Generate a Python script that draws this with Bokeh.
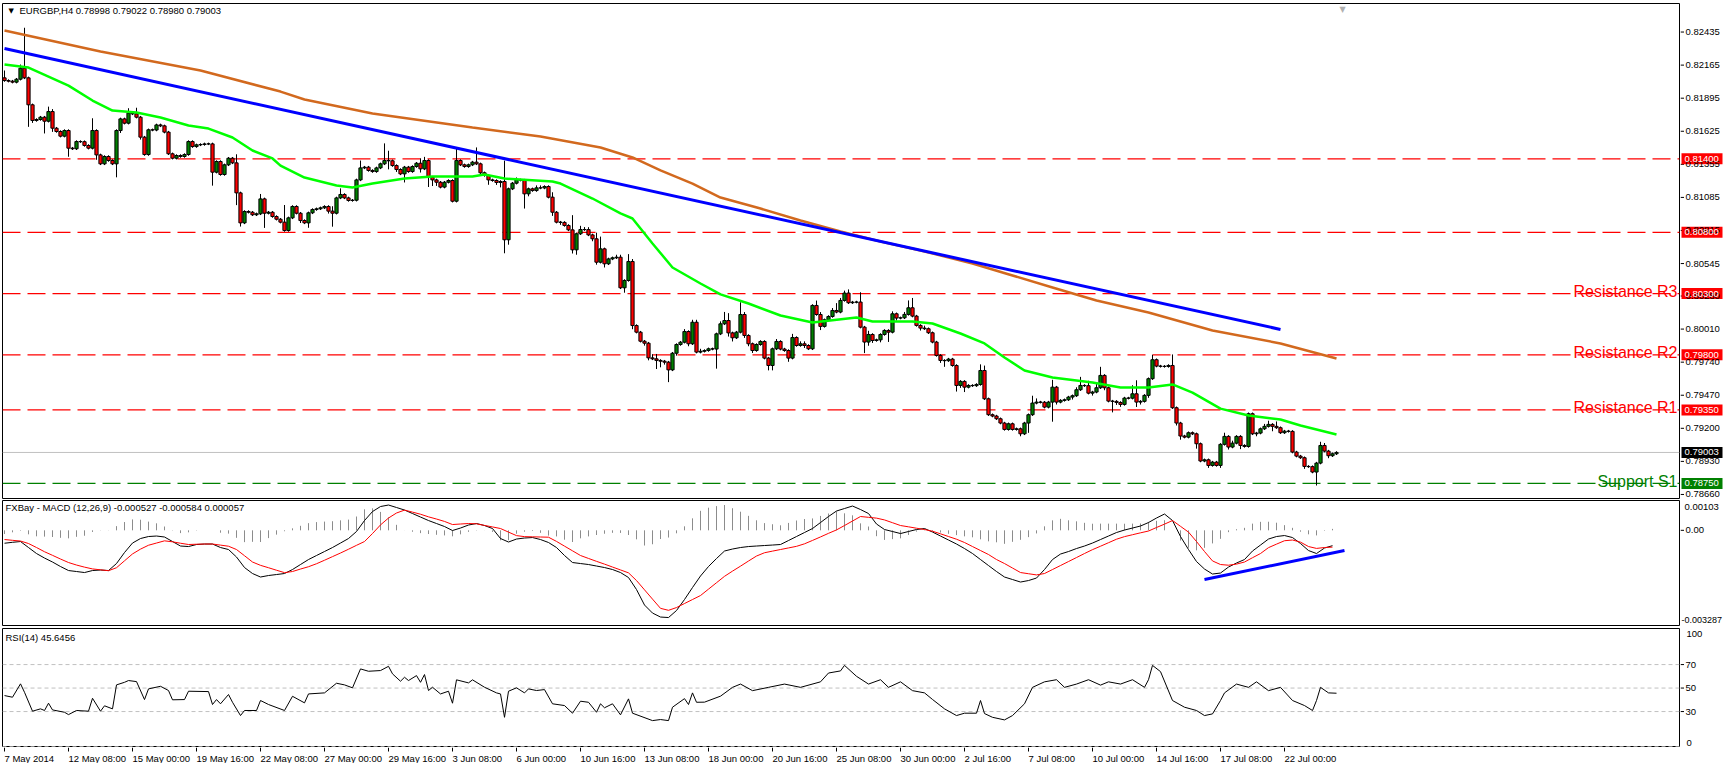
import numpy as np
from bokeh.plotting import figure
from bokeh.models import Range1d, Span, Label, Div, Grid
from bokeh.layouts import column, row
from bokeh.embed import file_html
from bokeh.resources import INLINE

# ---------------- data ----------------
symbol_header = "EURGBP,H4  0.78998 0.79022 0.78980 0.79003"
macd_header = "FXBay - MACD (12,26,9) -0.000527 -0.000584 0.000057"
rsi_header = "RSI(14) 45.6456"

first_open = 0.82061
close = [
 0.82039, 0.82034, 0.82026, 0.82050, 0.82140, 0.82061, 0.81841, 0.81713, 0.81721, 0.81740,
 0.81707, 0.81786, 0.81650, 0.81623, 0.81585, 0.81631, 0.81487, 0.81482, 0.81541, 0.81540,
 0.81509, 0.81487, 0.81631, 0.81432, 0.81359, 0.81419, 0.81386, 0.81359, 0.81631, 0.81726,
 0.81691, 0.81773, 0.81767, 0.81740, 0.81577, 0.81435, 0.81637, 0.81635, 0.81677, 0.81669,
 0.81618, 0.81441, 0.81405, 0.81427, 0.81419, 0.81435, 0.81541, 0.81500, 0.81514, 0.81517,
 0.81522, 0.81522, 0.81291, 0.81378, 0.81272, 0.81351, 0.81405, 0.81367, 0.81122, 0.80877,
 0.80970, 0.80964, 0.80943, 0.80951, 0.81073, 0.80956, 0.80964, 0.80929, 0.80907, 0.80883,
 0.80815, 0.80918, 0.81011, 0.80956, 0.80896, 0.80877, 0.80959, 0.80986, 0.80992, 0.81000,
 0.81011, 0.80973, 0.80956, 0.81081, 0.81109, 0.81081, 0.81060, 0.81062, 0.81228, 0.81326,
 0.81332, 0.81305, 0.81296, 0.81326, 0.81359, 0.81386, 0.81384, 0.81345, 0.81313, 0.81277,
 0.81332, 0.81296, 0.81337, 0.81364, 0.81318, 0.81386, 0.81250, 0.81228, 0.81209, 0.81169,
 0.81209, 0.81223, 0.81054, 0.81386, 0.81351, 0.81337, 0.81351, 0.81373, 0.81359, 0.81286,
 0.81264, 0.81228, 0.81223, 0.81207, 0.81215, 0.80739, 0.81155, 0.81201, 0.81228, 0.81226,
 0.81114, 0.81155, 0.81141, 0.81163, 0.81162, 0.81174, 0.81087, 0.80964, 0.80883, 0.80881,
 0.80856, 0.80820, 0.80657, 0.80788, 0.80823, 0.80822, 0.80779, 0.80747, 0.80556, 0.80665,
 0.80543, 0.80583, 0.80592, 0.80597, 0.80347, 0.80407, 0.80562, 0.80039, 0.79985, 0.79911,
 0.79895, 0.79775, 0.79767, 0.79754, 0.79748, 0.79740, 0.79677, 0.79813, 0.79884, 0.79903,
 0.79990, 0.79890, 0.80066, 0.79822, 0.79829, 0.79835, 0.79849, 0.79847, 0.79971, 0.80053,
 0.80080, 0.79979, 0.79939, 0.79985, 0.80129, 0.79958, 0.79890, 0.79835, 0.79884, 0.79909,
 0.79773, 0.79713, 0.79849, 0.79909, 0.79847, 0.79835, 0.79773, 0.79941, 0.79876, 0.79890,
 0.79876, 0.79849, 0.80203, 0.80129, 0.80032, 0.80086, 0.80113, 0.80162, 0.80149, 0.80244,
 0.80304, 0.80225, 0.80230, 0.80231, 0.80026, 0.79904, 0.79966, 0.79917, 0.79922, 0.79966,
 0.79999, 0.79985, 0.80135, 0.80100, 0.80102, 0.80130, 0.80184, 0.80116, 0.80040, 0.80018,
 0.80013, 0.79980, 0.79904, 0.79795, 0.79754, 0.79752, 0.79765, 0.79713, 0.79550, 0.79583,
 0.79536, 0.79550, 0.79548, 0.79558, 0.79672, 0.79441, 0.79311, 0.79300, 0.79278, 0.79243,
 0.79191, 0.79237, 0.79191, 0.79196, 0.79155, 0.79243, 0.79311, 0.79406, 0.79414, 0.79413,
 0.79373, 0.79414, 0.79536, 0.79414, 0.79428, 0.79433, 0.79455, 0.79466, 0.79515, 0.79550,
 0.79548, 0.79487, 0.79496, 0.79531, 0.79632, 0.79531, 0.79422, 0.79420, 0.79411, 0.79395,
 0.79447, 0.79446, 0.79482, 0.79414, 0.79420, 0.79469, 0.79605, 0.79760, 0.79708, 0.79706,
 0.79705, 0.79713, 0.79368, 0.79243, 0.79137, 0.79128, 0.79164, 0.79155, 0.79074, 0.78933,
 0.78943, 0.78897, 0.78924, 0.78897, 0.79069, 0.79134, 0.79047, 0.79079, 0.79134, 0.79060,
 0.79052, 0.79319, 0.79155, 0.79161, 0.79196, 0.79216, 0.79232, 0.79216, 0.79205, 0.79164,
 0.79177, 0.79175, 0.79006, 0.78973, 0.78960, 0.78889, 0.78887, 0.78843, 0.78916, 0.79060,
 0.79014, 0.78976, 0.78992, 0.79003,
]

# wick lengths beyond the candle body, in pips (0.0001)
wick_up_pips = [
 6,1,1,1,3,33,1,1,1,1,1,4,2,1,1,1,1,1,1,1,
 1,1,10,1,1,1,1,1,1,1,1,4,1,5,1,1,1,1,1,1,
 1,1,1,1,1,1,1,1,1,1,1,1,1,1,1,1,1,1,7,1,
 1,1,1,1,4,1,1,1,1,1,14,1,1,1,1,1,1,1,1,1,
 1,1,4,1,5,1,1,1,1,6,1,1,1,1,1,14,8,1,1,1,
 1,1,1,1,4,3,1,1,1,1,1,1,1,11,1,1,1,1,12,1,
 1,1,1,1,1,17,1,1,2,1,1,1,1,2,2,1,1,4,1,1,
 1,1,12,1,3,2,2,1,5,10,1,1,1,2,2,1,6,2,1,1,
 1,1,3,4,1,1,1,1,1,1,2,1,2,2,2,1,1,1,1,2,
 7,6,1,1,10,2,1,1,1,1,1,1,1,2,1,1,1,3,1,2,
 2,1,1,4,2,1,1,2,6,2,2,3,1,1,8,1,3,1,1,1,
 1,1,2,1,1,2,6,8,1,1,2,1,1,1,1,1,1,1,1,1,
 1,1,1,1,5,4,1,1,1,1,1,1,1,1,1,1,1,6,3,1,
 1,1,6,1,1,1,1,1,2,7,1,4,1,3,7,1,1,1,1,1,
 1,1,7,11,1,1,1,4,1,1,1,1,9,1,1,1,1,1,1,1,
 1,1,1,1,1,3,1,2,1,1,1,1,1,1,1,2,3,1,4,1,
 1,1,1,1,1,1,1,1,1,3,2,1,1,1,
]
wick_dn_pips = [
 1,1,1,1,1,1,18,2,1,1,10,1,3,1,1,1,7,1,1,1,
 1,1,1,4,1,1,1,1,11,2,1,1,1,1,2,1,1,1,1,1,
 1,1,1,1,1,1,1,1,1,1,1,1,11,1,1,1,1,1,10,3,
 1,1,1,1,1,12,1,1,1,1,1,1,1,1,2,1,4,1,1,1,
 1,2,11,1,1,1,1,1,1,1,1,1,1,1,1,1,7,1,2,1,
 7,1,1,1,3,1,8,5,3,1,1,1,1,1,1,1,1,1,1,2,
 1,4,1,2,4,11,4,1,1,1,12,2,1,1,1,1,1,3,1,2,
 1,1,3,4,1,1,1,2,2,1,3,1,1,1,1,4,1,3,1,1,
 2,2,1,7,5,2,10,1,2,1,1,2,1,1,1,1,1,1,16,1,
 1,3,3,1,1,2,2,2,1,1,1,4,4,1,1,1,3,1,1,1,
 2,1,1,1,3,1,1,1,1,1,1,1,1,1,1,9,3,2,1,2,
 1,8,1,2,1,1,1,1,1,2,1,1,1,1,2,5,1,1,5,2,
 4,1,1,1,1,1,1,1,1,1,1,1,1,1,2,1,8,1,1,1,
 1,1,16,2,1,1,1,2,1,1,1,1,2,1,1,2,1,9,2,2,
 1,1,1,4,2,1,2,1,1,1,1,1,1,2,3,1,1,1,4,1,
 1,2,1,1,2,1,2,1,1,3,1,1,1,2,1,1,1,4,1,1,
 1,1,1,1,1,2,1,1,11,1,1,2,1,1,
]

ma_slow_bar = [0, 24, 49, 69, 75, 92, 117, 134, 149, 157, 164, 172, 179, 189, 199, 209,
               219, 229, 242, 252, 262, 273, 286, 302, 319, 333]
ma_slow_val = [0.82447, 0.82276, 0.82121, 0.81949, 0.81884, 0.81770, 0.81656, 0.81582,
               0.81492, 0.81411, 0.81305, 0.81198, 0.81084, 0.80994, 0.80897, 0.80807,
               0.80725, 0.80652, 0.80546, 0.80448, 0.80350, 0.80243, 0.80146, 0.79999,
               0.79893, 0.79770]

ma_fast_bar = [0, 6, 16, 22, 27, 33, 39, 46, 51, 57,
               62, 67, 69, 75, 83, 87, 92, 100, 107, 117,
               120, 125, 137, 139, 147, 154, 157, 162, 167, 174,
               179, 186, 194, 202, 213, 217, 227, 232, 239, 245,
               250, 255, 262, 272, 279, 286, 292, 297, 304, 311,
               319, 324, 333]
ma_fast_val = [0.82170, 0.82145, 0.81998, 0.81876, 0.81794, 0.81778, 0.81737, 0.81672, 0.81647, 0.81574,
               0.81468, 0.81403, 0.81345, 0.81247, 0.81182, 0.81166, 0.81198, 0.81239, 0.81256, 0.81256,
               0.81272, 0.81239, 0.81215, 0.81198, 0.81076, 0.80954, 0.80913, 0.80709, 0.80513, 0.80382,
               0.80293, 0.80219, 0.80121, 0.80064, 0.80105, 0.80072, 0.80072, 0.80056, 0.79974, 0.79893,
               0.79778, 0.79672, 0.79615, 0.79574, 0.79533, 0.79533, 0.79558, 0.79492, 0.79361, 0.79304,
               0.79272, 0.79223, 0.79150]

trend_bar = [0, 319]
trend_val = [0.82300, 0.80007]

level_prices = [0.81400, 0.80800, 0.80300, 0.79800, 0.79350, 0.78750]
level_names = ["", "", "Resistance R3", "Resistance R2", "Resistance R1", "Support S1"]
bid_price = 0.79003

price_ticks = [0.82435, 0.82165, 0.81895, 0.81625, 0.81355, 0.81085, 0.80815, 0.80545,
               0.80280, 0.80010, 0.79740, 0.79470, 0.79200, 0.78930, 0.78660]

# MACD main and signal, sampled every second bar (bars 0, 2, 4, ... 332)
macd_main = [
 -0.000446, -0.000414, -0.000387, -0.000594, -0.000801, -0.000957, -0.001095, -0.001250, -0.001389, -0.001423,
 -0.001458, -0.001389, -0.001371, -0.001389, -0.001147, -0.000767, -0.000439, -0.000283, -0.000214, -0.000197,
 -0.000231, -0.000387, -0.000542, -0.000560, -0.000490, -0.000473, -0.000473, -0.000594, -0.000663, -0.000922,
 -0.001285, -0.001492, -0.001613, -0.001561, -0.001527, -0.001492, -0.001354, -0.001181, -0.001009, -0.000870,
 -0.000732, -0.000594, -0.000439, -0.000283, -0.000041, 0.000338, 0.000649, 0.000822, 0.000874, 0.000788,
 0.000701, 0.000580, 0.000459, 0.000338, 0.000235, 0.000131, -0.000007, 0.000079, 0.000183, 0.000235,
 0.000166, 0.000062, -0.000283, -0.000404, -0.000301, -0.000266, -0.000249, -0.000318, -0.000421, -0.000594,
 -0.000870, -0.001112, -0.001147, -0.001181, -0.001233, -0.001285, -0.001354, -0.001458, -0.001630, -0.002045,
 -0.002580, -0.002857, -0.002995, -0.003012, -0.002770, -0.002390, -0.001976, -0.001578, -0.001250, -0.000974,
 -0.000715, -0.000646, -0.000594, -0.000560, -0.000542, -0.000525, -0.000508, -0.000490, -0.000352, -0.000214,
 -0.000076, 0.000062, 0.000269, 0.000477, 0.000667, 0.000753, 0.000839, 0.000718, 0.000580, 0.000218,
 0.000028, -0.000041, -0.000111, -0.000041, 0.000028, 0.000062, -0.000059, -0.000197, -0.000335, -0.000473,
 -0.000629, -0.000801, -0.001009, -0.001216, -0.001423, -0.001613, -0.001699, -0.001786, -0.001734, -0.001648,
 -0.001354, -0.001009, -0.000819, -0.000732, -0.000629, -0.000542, -0.000439, -0.000318, -0.000197, -0.000076,
 0.000010, 0.000079, 0.000149, 0.000269, 0.000425, 0.000563, 0.000338, -0.000214, -0.000663, -0.001078,
 -0.001337, -0.001509, -0.001475, -0.001268, -0.001129, -0.001009, -0.000715, -0.000508, -0.000301, -0.000214,
 -0.000180, -0.000249, -0.000456, -0.000698, -0.000801, -0.000611, -0.000530,
]
macd_signal = [
 -0.000318, -0.000345, -0.000370, -0.000456, -0.000594, -0.000739, -0.000864, -0.000991, -0.001112, -0.001199,
 -0.001271, -0.001333, -0.001364, -0.001395, -0.001292, -0.001053, -0.000815, -0.000649, -0.000515, -0.000439,
 -0.000363, -0.000397, -0.000446, -0.000490, -0.000480, -0.000473, -0.000473, -0.000511, -0.000549, -0.000663,
 -0.000877, -0.001095, -0.001209, -0.001292, -0.001378, -0.001461, -0.001423, -0.001337, -0.001257, -0.001154,
 -0.001033, -0.000908, -0.000784, -0.000653, -0.000518, -0.000387, -0.000111, 0.000187, 0.000425, 0.000598,
 0.000698, 0.000629, 0.000556, 0.000466, 0.000390, 0.000307, 0.000200, 0.000218, 0.000235, 0.000225,
 0.000169, 0.000117, 0.000062, -0.000062, -0.000183, -0.000218, -0.000225, -0.000231, -0.000238, -0.000383,
 -0.000546, -0.000708, -0.000870, -0.000971, -0.001071, -0.001167, -0.001268, -0.001368, -0.001468, -0.001734,
 -0.002055, -0.002376, -0.002694, -0.002763, -0.002667, -0.002528, -0.002390, -0.002252, -0.002031, -0.001810,
 -0.001589, -0.001409, -0.001237, -0.001060, -0.000888, -0.000774, -0.000718, -0.000663, -0.000608, -0.000553,
 -0.000466, -0.000349, -0.000228, -0.000104, 0.000014, 0.000166, 0.000321, 0.000477, 0.000449, 0.000421,
 0.000359, 0.000263, 0.000166, 0.000121, 0.000073, 0.000028, -0.000031, -0.000121, -0.000214, -0.000307,
 -0.000421, -0.000560, -0.000698, -0.000836, -0.001009, -0.001147, -0.001302, -0.001458, -0.001499, -0.001540,
 -0.001492, -0.001354, -0.001216, -0.001078, -0.000940, -0.000801, -0.000667, -0.000549, -0.000428, -0.000307,
 -0.000218, -0.000152, -0.000086, -0.000024, 0.000097, 0.000214, 0.000338, 0.000138, -0.000062, -0.000387,
 -0.000732, -0.001057, -0.001181, -0.001205, -0.001167, -0.001095, -0.000946, -0.000801, -0.000598, -0.000477,
 -0.000359, -0.000335, -0.000408, -0.000560, -0.000625, -0.000594, -0.000580,
]
macd_trend_bar = [300, 335]
macd_trend_val = [-0.001699, -0.000698]
macd_top, macd_bottom = 0.00103, -0.003287
macd_ticks = [0.0]
macd_tick_labels = ["0.00"]

rsi_bar = [0, 2, 4, 5, 7, 9, 10, 11, 12, 15,
           16, 18, 21, 22, 24, 25, 27, 28, 30, 31,
           33, 35, 36, 39, 41, 42, 45, 46, 51, 52,
           53, 54, 56, 57, 59, 60, 63, 64, 66, 70,
           72, 75, 76, 80, 83, 85, 87, 89, 91, 94,
           96, 97, 99, 100, 101, 103, 104, 105, 106, 107,
           109, 111, 112, 113, 116, 117, 120, 123, 124, 125,
           126, 128, 130, 131, 133, 135, 137, 140, 142, 144,
           146, 148, 149, 150, 152, 154, 156, 157, 162, 164,
           166, 167, 170, 171, 172, 173, 175, 179, 182, 184,
           187, 191, 195, 199, 204, 206, 209, 210, 213, 216,
           219, 221, 224, 227, 230, 232, 235, 238, 240, 243,
           244, 245, 247, 250, 252, 255, 257, 260, 263, 265,
           268, 271, 274, 276, 279, 282, 285, 286, 287, 289,
           292, 295, 298, 300, 302, 304, 305, 308, 311, 313,
           316, 319, 322, 325, 327, 328, 329, 331, 333]
rsi_val = [43.6, 42.2, 53.6, 46.4, 30.3, 32.3, 30.9, 37.1, 31.4, 29.4,
           27.4, 30.9, 30.3, 41.3, 30.3, 34.9, 32.3, 52.7, 54.9, 56.4,
           55.5, 40.2, 49.3, 51.5, 47.9, 40.0, 40.2, 47.3, 47.0, 36.0,
           40.2, 36.6, 44.5, 37.9, 26.6, 30.9, 30.9, 39.4, 36.0, 30.9,
           43.0, 37.4, 45.0, 45.9, 54.1, 52.7, 50.2, 66.3, 64.3, 64.9,
           68.5, 62.1, 55.8, 59.2, 56.4, 60.6, 54.9, 61.5, 47.9, 50.7,
           45.0, 47.3, 37.1, 57.0, 54.4, 57.0, 50.7, 45.9, 45.0, 25.1,
           47.3, 50.2, 45.9, 49.3, 47.9, 48.7, 36.6, 35.1, 28.6, 38.8,
           37.9, 29.4, 36.6, 33.2, 36.6, 27.2, 40.8, 28.6, 22.3, 23.2,
           22.3, 33.7, 41.0, 36.0, 45.9, 37.9, 38.0, 43.1, 50.6, 53.4,
           47.8, 50.6, 53.4, 50.6, 55.3, 62.8, 64.6, 69.3, 60.0, 53.4,
           57.1, 50.6, 55.3, 47.8, 45.9, 40.3, 32.3, 26.6, 28.6, 28.6,
           39.4, 28.3, 25.1, 22.9, 26.6, 36.6, 50.6, 55.3, 57.1, 50.6,
           53.4, 57.1, 52.5, 55.3, 53.4, 57.1, 50.6, 57.1, 69.3, 64.0,
           39.4, 33.7, 30.9, 26.6, 28.0, 39.4, 45.9, 53.4, 50.6, 55.3,
           47.8, 50.6, 39.4, 35.1, 30.9, 39.4, 50.6, 45.9, 45.6]
rsi_levels = [70, 50, 30, 0]
rsi_ticks = [70, 50, 30]

time_label_bars = [0, 16, 32, 48, 64, 80, 96, 112, 128, 144, 160, 176, 192, 208, 224,
                   240, 256, 272, 288, 304, 320]
time_labels = ["7 May 2014", "12 May 08:00", "15 May 00:00", "19 May 16:00", "22 May 08:00",
               "27 May 00:00", "29 May 16:00", "3 Jun 08:00", "6 Jun 00:00", "10 Jun 16:00",
               "13 Jun 08:00", "18 Jun 00:00", "20 Jun 16:00", "25 Jun 08:00", "30 Jun 00:00",
               "2 Jul 16:00", "7 Jul 08:00", "10 Jul 00:00", "14 Jul 16:00", "17 Jul 08:00",
               "22 Jul 00:00"]

assert len(close) == len(wick_up_pips) == len(wick_dn_pips), (len(close), len(wick_up_pips), len(wick_dn_pips))
assert len(macd_main) == len(macd_signal)
assert len(rsi_bar) == len(rsi_val), (len(rsi_bar), len(rsi_val))

# ---------------- styling / layout ----------------
FONT = "Liberation Sans"
FS = "9.5px"
FW = 1677                      # chart frame width in px
SW = 43                        # right price-scale strip width in px
X0 = -0.5
X1 = X0 + FW / 4.0             # 4 px per bar
PMIN, PMAX = 0.78627, 0.82668
RMIN, RMAX = -0.6, 100.7


def base_fig(fw, fh, xr, yr, left, right, top, bottom, outline="black"):
    p = figure(frame_width=fw, frame_height=fh, x_range=xr, y_range=yr,
               x_axis_location=None, y_axis_location=None, output_backend="svg",
               toolbar_location=None, title=None, min_border_left=left, min_border_right=right,
               min_border_top=top, min_border_bottom=bottom, background_fill_color="white",
               border_fill_color="white", outline_line_color=outline, outline_line_width=1)
    for g in p.select(type=Grid):
        g.visible = False
    return p


def text(p, x, y, s, **kw):
    opts = dict(text_font=FONT, text_font_size=FS, text_color="black", text_baseline="middle",
                text_align="left")
    opts.update(kw)
    p.add_layout(Label(x=x, y=y, text=s, **opts))


def price_box(p, y, s, col):
    # box spans strip x = 1 .. 42 (px), 11 px tall, label in white on top
    p.rect(x=21.5, y=y, width=41, height=11, height_units="screen", fill_color=col,
           line_color=None)
    text(p, 4, y, s, text_color="white")


# ---- main price panel ----
xr = Range1d(X0, X1)
yr_main = Range1d(PMIN, PMAX)
main = base_fig(FW, 495, xr, yr_main, 2, 1, 3, 1)
scale_main = base_fig(SW, 495, Range1d(0, SW), yr_main, 0, 0, 3, 1, outline=None)

for pr, name in zip(level_prices, level_names):
    col = "#008000" if name.startswith("Support") else "#FF0000"
    main.add_layout(Span(location=pr, dimension="width", line_color=col, line_width=1.3,
                         line_dash="18 7", level="underlay"))
main.add_layout(Span(location=bid_price, dimension="width", line_color="#c0c0c0",
                     line_width=1, level="underlay"))

c = np.array(close)
n = len(c)
o = np.concatenate([[first_open], c[:-1]])
hi = np.maximum(o, c) + np.array(wick_up_pips) * 1e-4
lo = np.minimum(o, c) - np.array(wick_dn_pips) * 1e-4
xb = np.arange(n)
bull = c >= o
main.segment(xb, hi, xb, lo, line_color="black", line_width=1)
main.vbar(x=xb[bull], top=c[bull], bottom=o[bull], width=0.8, fill_color="#008000",
          line_color="black", line_width=1)
main.vbar(x=xb[~bull], top=o[~bull], bottom=c[~bull], width=0.8, fill_color="#FF0000",
          line_color="black", line_width=1)

main.line(ma_slow_bar, ma_slow_val, line_color="#D2691E", line_width=2.5)
main.line(ma_fast_bar, ma_fast_val, line_color="#00FF00", line_width=2.5)
main.line(trend_bar, trend_val, line_color="#0000FF", line_width=3)

for pr, name in zip(level_prices, level_names):
    col = "#008000" if name.startswith("Support") else "#FF0000"
    if name:
        text(main, X1, pr, name, x_offset=-2, y_offset=2, text_align="right",
             text_baseline="alphabetic", text_color=col, text_font_size="16px")

text(main, X0, PMAX, "\u25BC", x_offset=6, y_offset=-7, text_font="DejaVu Sans",
     text_font_size="7px")
text(main, X0, PMAX, symbol_header, x_offset=17, y_offset=-7)
text(main, 334.5, PMAX, "\u25BC", y_offset=-1, text_baseline="top", text_align="center",
     text_font="DejaVu Sans", text_font_size="8px", text_color="#b0b0b0")

# price scale (ticks, labels, price boxes)
scale_main.segment(x0=0, y0=price_ticks, x1=3.5, y1=price_ticks, line_color="black", line_width=1)
for t in price_ticks:
    text(scale_main, 5, t, f"{t:.5f}")
for pr, name in zip(level_prices, level_names):
    col = "#008000" if name.startswith("Support") else "#FF0000"
    price_box(scale_main, pr, f"{pr:.5f}", col)
price_box(scale_main, bid_price, f"{bid_price:.5f}", "black")

# ---- MACD panel ----
yr_macd = Range1d(macd_bottom, macd_top)
macd = base_fig(FW, 125, xr, yr_macd, 2, 1, 1, 1)
scale_macd = base_fig(SW, 125, Range1d(0, SW), yr_macd, 0, 0, 1, 1, outline=None)
mb = np.arange(0, 2 * len(macd_main), 2)
mm = np.array(macd_main)
ms = np.array(macd_signal)
hist = mm - ms
macd.segment(mb, np.zeros_like(hist), mb, hist, line_color="#8c8c8c", line_width=1)
macd.line(mb, mm, line_color="black", line_width=1)
macd.line(mb, ms, line_color="#FF0000", line_width=1)
macd.line(macd_trend_bar, macd_trend_val, line_color="#0000FF", line_width=3)
text(macd, X0, macd_top, macd_header, x_offset=3, y_offset=-7)

scale_macd.segment(x0=0, y0=macd_ticks, x1=3.5, y1=macd_ticks, line_color="black", line_width=1)
for t, s in zip(macd_ticks, macd_tick_labels):
    text(scale_macd, 5, t, s)
text(scale_macd, 4, macd_top, f"{macd_top:.5f}", y_offset=-6)
text(scale_macd, 1, macd_bottom, f"{macd_bottom:.6f}", y_offset=6, text_font_size="9px")

# ---- RSI panel ----
yr_rsi = Range1d(RMIN, RMAX)
rsi = base_fig(FW, 119, xr, yr_rsi, 2, 1, 2, 0)
scale_rsi = base_fig(SW, 119, Range1d(0, SW), yr_rsi, 0, 0, 2, 0, outline=None)
for lv in rsi_levels:
    rsi.add_layout(Span(location=lv, dimension="width", line_color="#c0c0c0", line_width=1,
                        line_dash="4 3", level="underlay"))
rsi.line(rsi_bar, rsi_val, line_color="black", line_width=1)
text(rsi, X0, RMAX, rsi_header, x_offset=3, y_offset=-9)

scale_rsi.segment(x0=0, y0=rsi_ticks, x1=3.5, y1=rsi_ticks, line_color="black", line_width=1)
for t in rsi_ticks:
    text(scale_rsi, 5, t, str(t))
text(scale_rsi, 6, 100, "100", y_offset=-5)
text(scale_rsi, 6, 0, "0", y_offset=4)

# ---- time scale below the RSI panel ----
tscale = base_fig(FW, 16, xr, Range1d(0, 16), 2, 1 + SW, 0, 0, outline=None)
tscale.segment(x0=time_label_bars, y0=16, x1=time_label_bars, y1=12, line_color="black",
               line_width=1)
for b, t in zip(time_label_bars, time_labels):
    text(tscale, b, 11, t, text_baseline="top")

strip = Div(text="", width=1723, height=4, styles={"background-color": "#d4d0c8"})

layout = column(row(main, scale_main, spacing=0),
                row(macd, scale_macd, spacing=0),
                row(rsi, scale_rsi, spacing=0),
                tscale, strip, spacing=0)
open("out.html", "w").write(file_html(layout, INLINE))
